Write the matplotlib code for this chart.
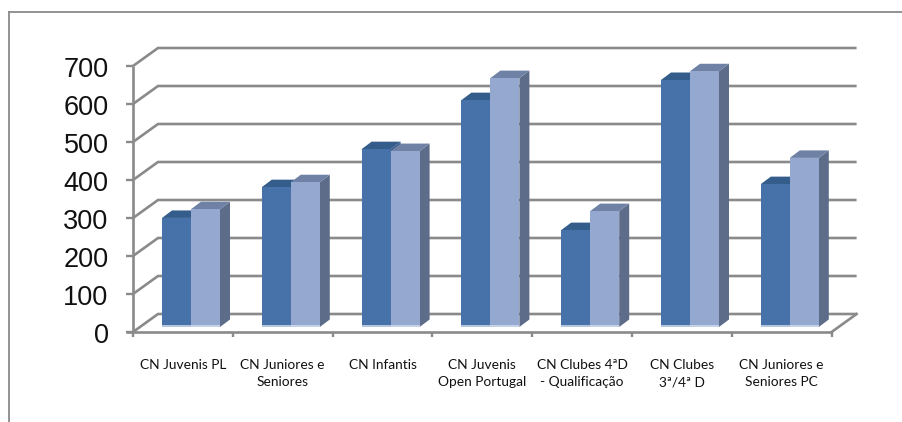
import matplotlib
matplotlib.use("Agg")
import matplotlib.pyplot as plt
from matplotlib.patches import Polygon

categories = ["CN Juvenis PL", "CN Juniores e\nSeniores", "CN Infantis",
              "CN Juvenis\nOpen Portugal", "CN Clubes 4ªD\n- Qualificação",
              "CN Clubes\n3ª/4ª D", "CN Juniores e\nSeniores PC"]
series_a = [287, 368, 468, 597, 255, 650, 376]
series_b = [310, 381, 463, 655, 305, 673, 445]
y_ticks = [0, 100, 200, 300, 400, 500, 600, 700]

W, H = 903, 422
X0, Y0 = 133, 332          # pixel position of the origin
PX_CAT = 99.8              # pixels per category
PX_VAL = 266 / 700         # pixels per value unit
GREY = "#8a8a8a"

fig = plt.figure(figsize=(W / 100, H / 100), dpi=100)
ax = fig.add_axes([0, 0, 1, 1])
ax.set_xlim(-X0 / PX_CAT, (W - X0) / PX_CAT)
ax.set_ylim(-(H - Y0) / PX_VAL, Y0 / PX_VAL)
ax.axis("off")

px = 1 / PX_CAT   # one pixel in x data units
py = 1 / PX_VAL   # one pixel in y data units
n = len(categories)
wall_dx, wall_dy = 25 * px, 18 * py

# outer chart frame
xl, xr = ax.get_xlim()
yb, yt = ax.get_ylim()
ax.plot([xl + 8.5 * px, xl + 8.5 * px], [yb, yt - 12 * py], color=GREY, lw=1.3, zorder=1)
ax.plot([xl + 8.5 * px, xr], [yt - 12 * py, yt - 12 * py], color=GREY, lw=1.3, zorder=1)

# gridlines with wall returns
for v in y_ticks:
    ax.plot([0, wall_dx, n + wall_dx], [v, v + wall_dy, v + wall_dy],
            color=GREY, lw=1.9, zorder=2, solid_joinstyle="miter", solid_capstyle="butt")
    ax.plot([-7 * px, 0], [v, v], color=GREY, lw=1.7, zorder=2, solid_capstyle="butt")
    ax.text(-24.5 * px, v - 4 * py, str(v), ha="right", va="center", fontsize=19.5,
            family="Liberation Sans", color="#111111", zorder=6)

# left wall and floor
ax.plot([0, 0], [0, y_ticks[-1]], color=GREY, lw=1.9, zorder=2, solid_capstyle="butt")
ax.plot([n, n + wall_dx], [0, wall_dy], color=GREY, lw=1.9, zorder=2)

# bars
bw = 29 * px
bar_dx, bar_dy = 10 * px, 7.5 * py
lift = 5 * py
start = 29 * px

def bar(x, v, front, top, side, strip, z):
    b, t = lift, lift + v
    ax.add_patch(Polygon([(x + bw, b), (x + bw + bar_dx, b + bar_dy),
                          (x + bw + bar_dx, t + bar_dy), (x + bw, t)],
                         fc=side, ec="none", zorder=z))
    ax.add_patch(Polygon([(x, t), (x + bar_dx, t + bar_dy),
                          (x + bw + bar_dx, t + bar_dy), (x + bw, t)],
                         fc=top, ec="none", zorder=z))
    ax.bar(x, v, width=bw, bottom=b, align="edge", color=front, lw=0, zorder=z + 0.1)
    ax.bar(x, 2.5 * py, width=bw, bottom=b, align="edge", color=strip, lw=0, zorder=z + 0.2)

for i in range(n):
    bar(i + start, series_a[i], "#4672a9", "#355d8b", "#355d8b", "#b4c5de", 3)
    bar(i + start + bw, series_b[i], "#95a9d0", "#6f82a5", "#5d6c88", "#c5d1e6", 4)

# front axis line and ticks
ax.plot([-7 * px, n], [0, 0], color=GREY, lw=1.9, zorder=5, solid_capstyle="butt")
for i in range(n + 1):
    ax.plot([i, i], [0, -5 * py], color=GREY, lw=1.7, zorder=5, solid_capstyle="butt")

# category labels
for i, c in enumerate(categories):
    ax.text(i + 0.5, -27 * py, c, ha="center", va="top", fontsize=9.9,
            family="Lato", color="#111111", linespacing=1.55, zorder=6)

fig.savefig("out.png", dpi=100)
